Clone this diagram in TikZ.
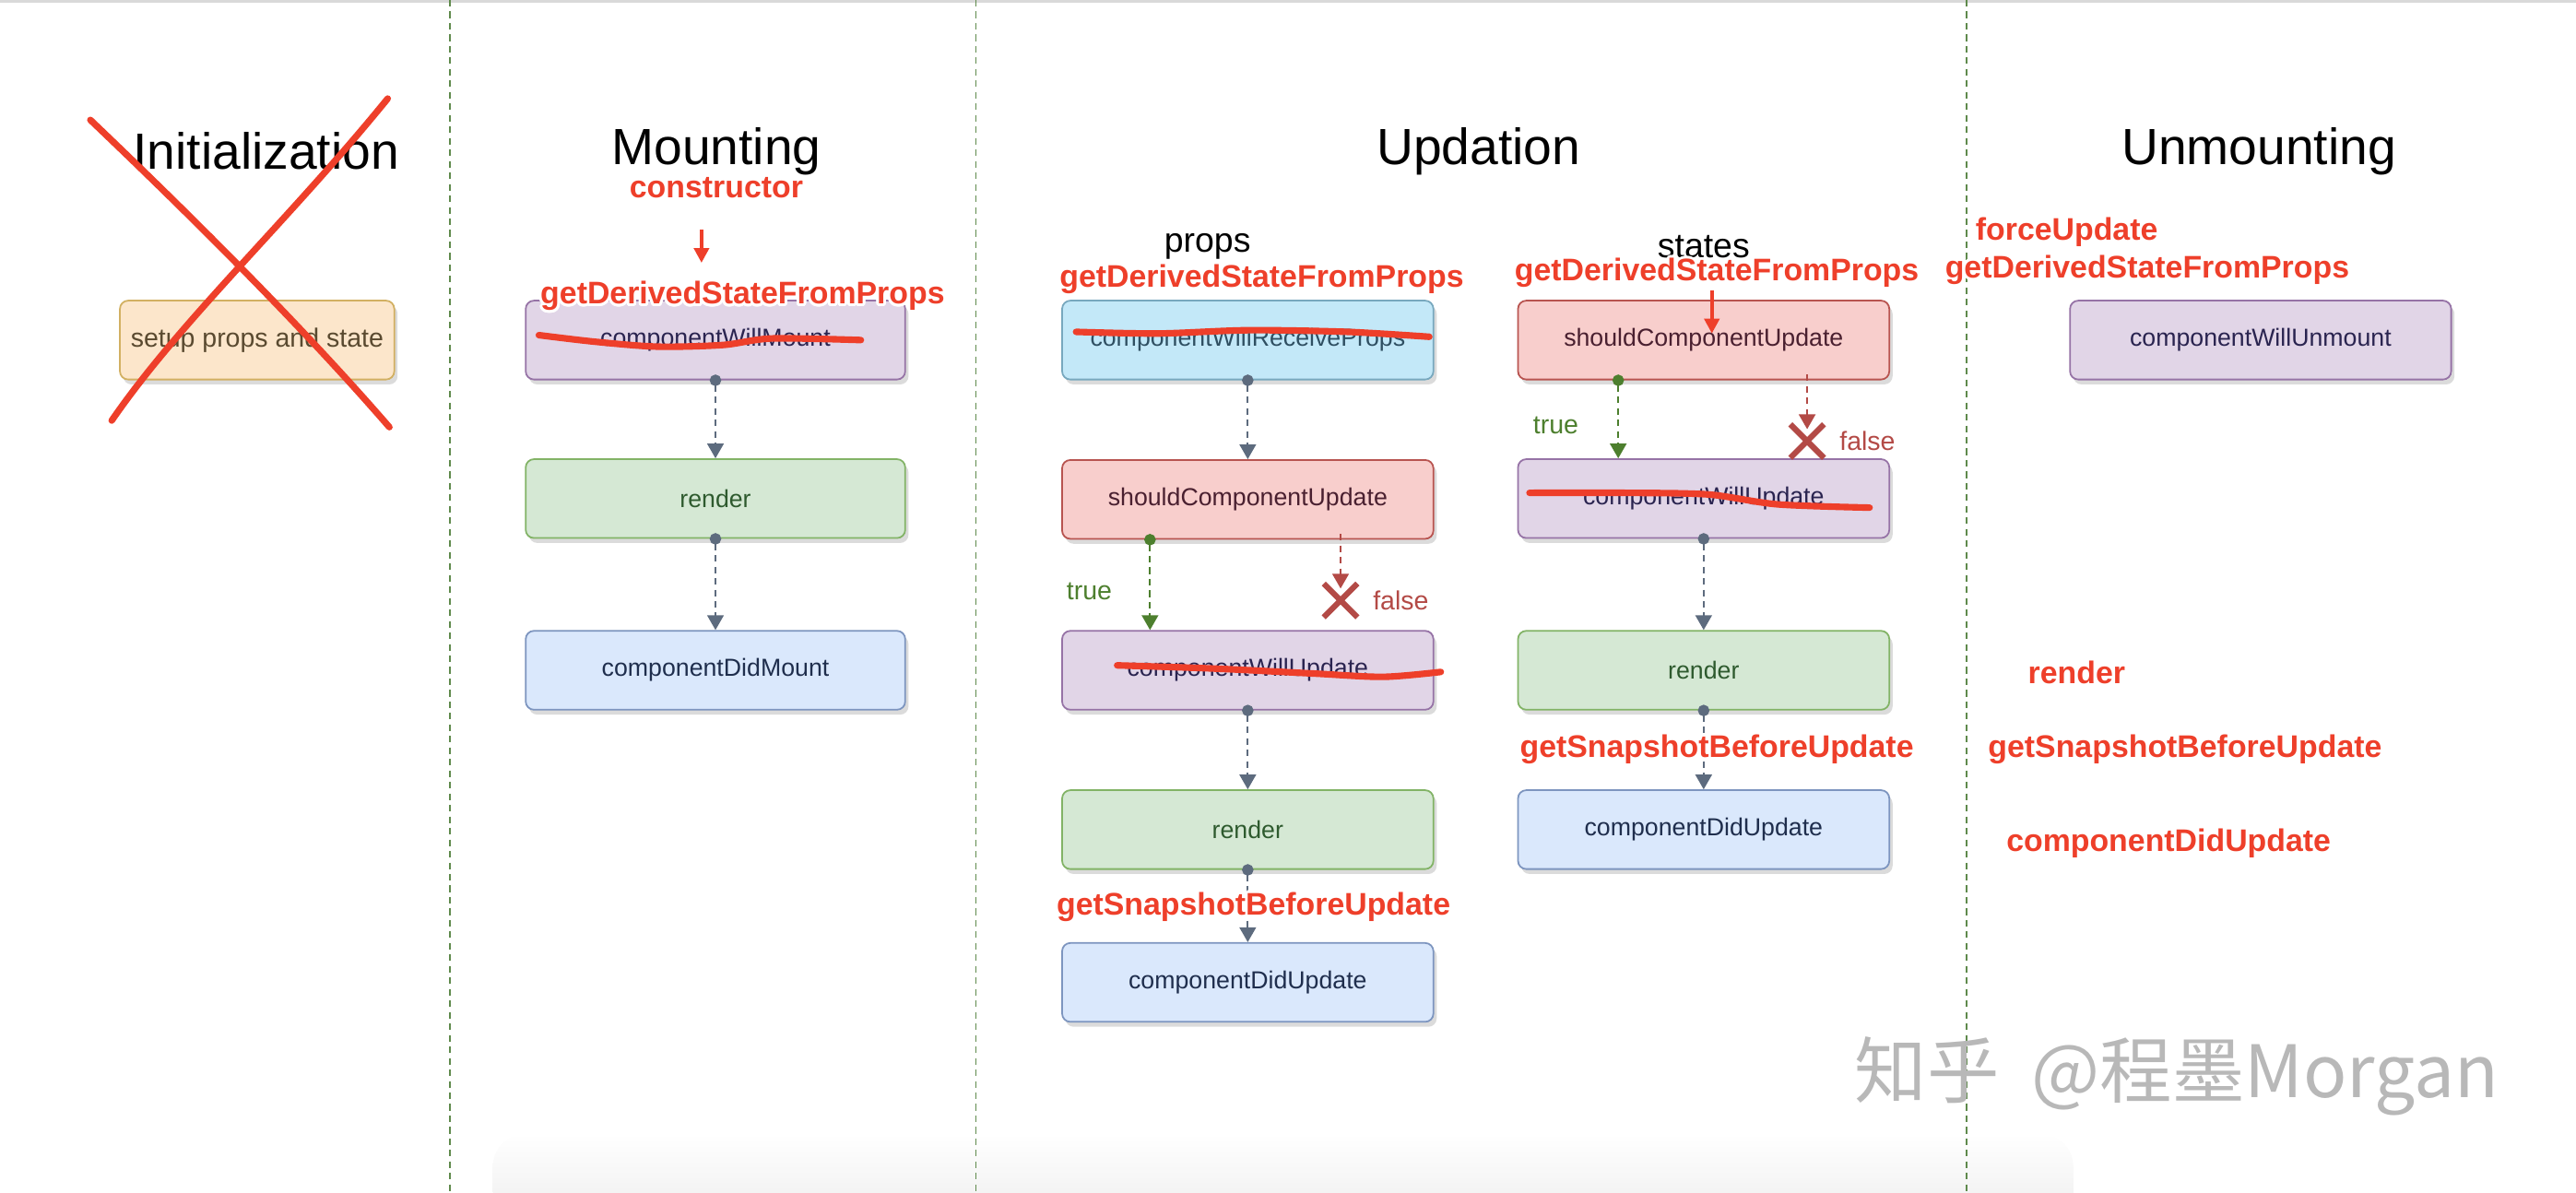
\documentclass[tikz,border=0pt]{standalone}
\usepackage{fontspec}
\setmainfont{Liberation Sans}
\newfontfamily\cjkfont{Noto Sans CJK SC}
\usepackage{contour}
\contourlength{1.6pt}
\contournumber{24}
\usetikzlibrary{arrows.meta,positioning,shapes.misc,shadows}

\definecolor{fillsetup}{HTML}{FCE6CB}
\definecolor{edgesetup}{HTML}{D2B062}
\definecolor{txtsetup}{HTML}{5A4A30}
\definecolor{fillpurple}{HTML}{E1D5E7}
\definecolor{edgepurple}{HTML}{9673A6}
\definecolor{txtpurple}{HTML}{2A2450}
\definecolor{fillgreen}{HTML}{D5E8D4}
\definecolor{edgegreen}{HTML}{82B366}
\definecolor{txtgreen}{HTML}{2E5A2E}
\definecolor{fillblue}{HTML}{DAE8FC}
\definecolor{edgeblue}{HTML}{7D95BF}
\definecolor{txtblue}{HTML}{1F2E4D}
\definecolor{fillcyan}{HTML}{C3E8F8}
\definecolor{edgecyan}{HTML}{78A8BE}
\definecolor{txtcyan}{HTML}{2F4F62}
\definecolor{fillred}{HTML}{F8CECC}
\definecolor{edgered}{HTML}{B85450}
\definecolor{txtred}{HTML}{4A2030}
\definecolor{flowgray}{HTML}{5D6B7E}
\definecolor{truegreen}{HTML}{4D7F2E}
\definecolor{falsered}{HTML}{B34A46}
\definecolor{notered}{HTML}{EE3F2A}
\definecolor{divgreen}{HTML}{5F8A4C}

\begin{document}
\begin{tikzpicture}[x=1pt, y=-1pt,
		phase/.style={font=\fontsize{31}{37}\selectfont},
		sub/.style={font=\fontsize{21}{25}\selectfont},
		block/.style={draw, rounded corners=5pt, line width=1pt, minimum width=226pt, minimum height=48pt, inner sep=0pt, font=\fontsize{15}{18}\selectfont, drop shadow={shadow xshift=2pt, shadow yshift=-3pt, fill=black!28}},
		setupbox/.style={block, fill=fillsetup, draw=edgesetup, text=txtsetup},
		purplebox/.style={block, fill=fillpurple, draw=edgepurple, text=txtpurple},
		greenbox/.style={block, fill=fillgreen, draw=edgegreen, text=txtgreen},
		bluebox/.style={block, fill=fillblue, draw=edgeblue, text=txtblue},
		cyanbox/.style={block, fill=fillcyan, draw=edgecyan, text=txtcyan},
		redbox/.style={block, fill=fillred, draw=edgered, text=txtred},
		flow/.style={dash pattern=on 4pt off 3pt, line width=1.2pt, draw=flowgray, shorten <=-3.5pt, {Circle[length=7pt]}-{Triangle[width=10pt,length=9pt]}},
		yes/.style={flow, draw=truegreen},
		no/.style={flow, draw=falsered},
		nobox/.style={cross out, draw=falsered, line width=3.5pt, minimum size=17pt, inner sep=0pt},
		lbl/.style={font=\fontsize{16}{19}\selectfont},
		note/.style={text=notered, font=\bfseries\fontsize{19}{23}\selectfont, inner sep=0pt},
		redarrow/.style={draw=notered, line width=2.5pt, -{Triangle[width=9pt,length=9pt]}},
		strike/.style={draw=notered, line width=4pt, line cap=round},
		divider/.style={draw=divgreen, line width=1pt, dash pattern=on 4pt off 3pt},
	]
	\useasboundingbox (0,0) rectangle (1568,726);
	\shade[top color=white, bottom color=black!7, rounded corners=20pt] (300,690) rectangle (1262,746);
	\draw[black!15, line width=1.5pt] (0,0.75) -- (1568,0.75);

	% phase dividers
	\foreach \x in {274,594,1197}
		\draw[divider] (\x,0) -- (\x,726);

	% phases
	\node[phase] (init) at (162,92) {Initialization};
	\node[phase] (mount) at (436,92) {Mounting};
	\node[phase] (update) at (900,92) {Updation};
	\node[phase] (unmount) at (1375,92) {Unmounting};
	\node[sub] (props) at (735,150) {props};
	\node[sub] (states) at (1037,150) {states};

	% boxes
	\node[setupbox, minimum width=167pt, font=\fontsize{16}{19}\selectfont] (setup) at (156.5,207) {setup props and state};

	\node[purplebox, minimum width=231pt] (wmount) at (435.5,207) {componentWillMount};
	\node[greenbox, minimum width=231pt] (mrender) at (435.5,303.5) {render};
	\node[bluebox, minimum width=231pt] (dmount) at (435.5,408) {componentDidMount};

	\node[cyanbox] (wrprops) at (759.5,207) {componentWillReceiveProps};
	\node[redbox] (pshould) at (759.5,304) {shouldComponentUpdate};
	\node[purplebox] (pwupdate) at (759.5,408) {componentWillUpdate};
	\node[greenbox] (prender) at (759.5,505) {render};
	\node[bluebox] (pdupdate) at (759.5,598) {componentDidUpdate};

	\node[redbox] (sshould) at (1037,207) {shouldComponentUpdate};
	\node[purplebox] (swupdate) at (1037,303.5) {componentWillUpdate};
	\node[greenbox] (srender) at (1037,408) {render};
	\node[bluebox] (sdupdate) at (1037,505) {componentDidUpdate};

	\node[purplebox, minimum width=232pt] (wunmount) at (1376,207) {componentWillUnmount};

	% flow
	\draw[flow] (wmount) -- (mrender);
	\draw[flow] (mrender) -- (dmount);

	\draw[flow] (wrprops) -- (pshould);
	\draw[yes] ([xshift=-59.5pt]pshould.south) -- ([xshift=-59.5pt]pwupdate.north);
	\node[nobox] (pno) at ([xshift=56.5pt, yshift=-37pt]pshould.south) {};
	\draw[no, -{Triangle[width=10pt,length=9pt]}] ([xshift=56.5pt]pshould.south) -- ([yshift=-3pt]pno.north);
	\node[lbl, text=truegreen] (ptrue) at (663,360) {true};
	\node[lbl, text=falsered, right=6pt of pno] (pfalse) {false};
	\draw[flow] (pwupdate) -- (prender);
	\draw[flow] (prender) -- (pdupdate);

	\draw[yes] ([xshift=-52pt]sshould.south) -- ([xshift=-52pt]swupdate.north);
	\node[nobox] (sno) at ([xshift=63pt, yshift=-37pt]sshould.south) {};
	\draw[no, -{Triangle[width=10pt,length=9pt]}] ([xshift=63pt]sshould.south) -- ([yshift=-3pt]sno.north);
	\node[lbl, text=truegreen] (strue) at (947,259) {true};
	\node[lbl, text=falsered, right=6pt of sno] (sfalse) {false};
	\draw[flow] (swupdate) -- (srender);
	\draw[flow] (srender) -- (sdupdate);

	% crossed out
	\draw[strike] (55,73) .. controls (120,135) and (185,200) .. (237,260);
	\draw[strike] (236,60) .. controls (175,135) and (110,195) .. (68,256);
	\draw[strike] plot[smooth] coordinates {(328,204) (362,208) (400,211) (440,210) (470,206) (524,207)};
	\draw[strike] plot[smooth] coordinates {(655,202) (705,203) (760,201) (820,202) (870,205)};
	\draw[strike] plot[smooth] coordinates {(680,405) (740,407) (800,410) (842,412) (877,409)};
	\draw[strike] plot[smooth] coordinates {(931,300) (990,300) (1040,301) (1082,307) (1138,309)};

	% new lifecycle
	\node[note] (ctor) at (436,115) {\contour{white}{constructor}};
	\coordinate (ctorout) at (427,140);
	\coordinate (ctorin) at (427,160);
	\draw[redarrow] (ctorout) -- (ctorin);
	\node[note] (mderived) at (452,181) {\contour{white}{getDerivedStateFromProps}};
	\node[note] (pderived) at (768,171) {\contour{white}{getDerivedStateFromProps}};
	\node[note] (psnap) at (763,553) {\contour{white}{getSnapshotBeforeUpdate}};
	\node[note] (sderived) at (1045,167) {\contour{white}{getDerivedStateFromProps}};
	\coordinate (sderivedin) at (1042,203);
	\draw[redarrow] (sderived.south -| sderivedin) -- (sderivedin);
	\node[note] (ssnap) at (1045,457) {\contour{white}{getSnapshotBeforeUpdate}};
	\node[note] (uforce) at (1258,142) {\contour{white}{forceUpdate}};
	\node[note] (uderived) at (1307,165) {\contour{white}{getDerivedStateFromProps}};
	\node[note] (urender) at (1264,410) {\contour{white}{render}};
	\node[note] (usnap) at (1330,457) {\contour{white}{getSnapshotBeforeUpdate}};
	\node[note] (udupdate) at (1320,514) {\contour{white}{componentDidUpdate}};

	% watermark
	\node[text=black!28, font=\cjkfont\fontsize{44}{50}\selectfont] (mark) at (1325,655) {知乎\hspace{0.45em}@程墨Morgan};
\end{tikzpicture}
\end{document}
